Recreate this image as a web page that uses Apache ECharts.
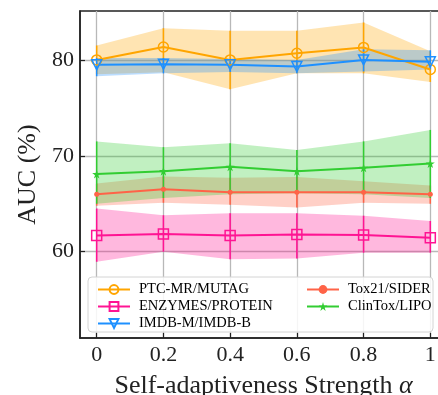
<!DOCTYPE html>
<html><head><meta charset="utf-8">
<script src="https://cdn.jsdelivr.net/npm/echarts@6/dist/echarts.min.js"></script>
<style>html,body{margin:0;padding:0;background:#fff}#c{width:438px;height:395px}</style>
</head><body><div id="c"></div>
<script>
// ---- data ----
const alphas = [0, 0.2, 0.4, 0.6, 0.8, 1];
const xTicks = [0, 0.2, 0.4, 0.6, 0.8, 1];
const yTicks = [60, 70, 80];

const ptcName = 'PTC-MR/MUTAG';
const ptcMean = [80.0, 81.35, 80.0, 80.7, 81.3, 79.0];
const ptcLo   = [78.5, 78.7, 76.95, 78.6, 78.6, 77.7];
const ptcHi   = [81.5, 83.3, 83.05, 83.05, 83.9, 80.9];

const enzName = 'ENZYMES/PROTEIN';
const enzMean = [61.7, 61.85, 61.7, 61.8, 61.75, 61.45];
const enzLo   = [58.95, 60.0, 59.2, 59.3, 59.9, 59.9];
const enzHi   = [64.5, 63.8, 64.0, 64.0, 63.75, 63.2];

const imdbName = 'IMDB-M/IMDB-B';
const imdbMean = [79.5, 79.55, 79.5, 79.3, 80.0, 79.8];
const imdbLo   = [78.3, 78.6, 78.75, 78.6, 78.8, 79.0];
const imdbHi   = [80.2, 80.2, 80.1, 80.0, 81.1, 81.0];

const toxName = 'Tox21/SIDER';
const toxMean = [66.0, 66.5, 66.2, 66.2, 66.2, 66.0];
const toxLo   = [64.8, 65.1, 64.9, 64.6, 65.1, 65.0];
const toxHi   = [67.1, 67.85, 67.7, 67.8, 67.35, 66.9];

const clinName = 'ClinTox/LIPO';
const clinMean = [68.1, 68.4, 68.85, 68.4, 68.75, 69.2];
const clinLo   = [65.0, 65.6, 66.0, 66.1, 66.0, 65.6];
const clinHi   = [71.5, 70.9, 71.3, 70.6, 71.5, 72.7];

// ---- styling ----
const FONT = '"Liberation Serif", "DejaVu Serif", serif';
const STAR = 'path://M50,0 L61,35 L98,35 L68,57 L79,91 L50,70 L21,91 L32,57 L2,35 L39,35 Z';

function hexA(hex, a) {
  const n = parseInt(hex.slice(1), 16);
  return 'rgba(' + (n >> 16) + ',' + ((n >> 8) & 255) + ',' + (n & 255) + ',' + a + ')';
}

function makeSeries(name, color, mean, lo, hi, symbol, size, hollow, rotate) {
  const band = {
    type: 'custom', silent: true, z: 1,
    data: alphas.map((a, i) => [a, lo[i], hi[i]]),
    encode: { x: 0, y: [1, 2] },
    renderItem: function (params, api) {
      if (params.dataIndex !== 0) return null;
      const pts = [];
      for (let i = 0; i < alphas.length; i++) pts.push(api.coord([alphas[i], hi[i]]));
      for (let i = alphas.length - 1; i >= 0; i--) pts.push(api.coord([alphas[i], lo[i]]));
      return { type: 'polygon', shape: { points: pts }, style: { fill: hexA(color, 0.3), stroke: null } };
    }
  };
  const bars = {
    type: 'custom', silent: true, z: 2,
    data: alphas.map((a, i) => [a, lo[i], hi[i]]),
    encode: { x: 0, y: [1, 2] },
    renderItem: function (params, api) {
      const p1 = api.coord([api.value(0), api.value(1)]);
      const p2 = api.coord([api.value(0), api.value(2)]);
      return { type: 'line', shape: { x1: p1[0], y1: p1[1], x2: p2[0], y2: p2[1] }, style: { stroke: color, lineWidth: 1.5 } };
    }
  };
  const line = {
    name: name, type: 'line', z: 3,
    data: alphas.map((a, i) => [a, mean[i]]),
    symbol: symbol, symbolSize: size, symbolRotate: rotate || 0,
    showAllSymbol: true,
    lineStyle: { color: color, width: 2 },
    itemStyle: hollow ? { color: 'rgba(255,255,255,0)', borderColor: color, borderWidth: 1.5 } : { color: color, borderWidth: 0 },
    emphasis: { disabled: true },
    animation: false
  };
  return [band, bars, line];
}

const series = [].concat(
  makeSeries(ptcName, '#FFA500', ptcMean, ptcLo, ptcHi, 'circle', 10, true),
  makeSeries(enzName, '#FF1493', enzMean, enzLo, enzHi, 'rect', 10, true),
  makeSeries(imdbName, '#1E90FF', imdbMean, imdbLo, imdbHi, 'triangle', 10, true, 180),
  makeSeries(toxName, '#FF6347', toxMean, toxLo, toxHi, 'circle', 5, false),
  makeSeries(clinName, '#32CD32', clinMean, clinLo, clinHi, STAR, 9, false)
);

const legendText = { fontFamily: FONT, fontSize: 14.5, lineHeight: 13, color: '#000', padding: [0, 0, 0, 4] };

const chart = echarts.init(document.getElementById('c'), null, { renderer: 'canvas' });
chart.setOption({
  animation: false,
  backgroundColor: '#fff',
  grid: { left: 80, top: 11, width: 367, height: 327, outerBoundsMode: 'none', containLabel: false, show: true, borderColor: '#222', borderWidth: 1.5, backgroundColor: 'transparent' },
  xAxis: {
    type: 'value', min: -0.05, max: 1.05,
    axisLine: { show: true, onZero: false, lineStyle: { color: '#222', width: 1.5 } },
    axisTick: { show: true, inside: true, length: 5, customValues: xTicks, lineStyle: { color: '#222', width: 1.2 } },
    axisLabel: { customValues: xTicks, fontFamily: FONT, fontSize: 22, color: '#222', margin: 6 },
    splitLine: { show: true, lineStyle: { color: '#b8b8b8', width: 1.3 } },
    name: 'Self-adaptiveness Strength {i|α}',
    nameLocation: 'middle', nameGap: 35,
    nameTextStyle: { fontFamily: FONT, fontSize: 26, color: '#222', rich: { i: { fontFamily: FONT, fontSize: 26, fontStyle: 'italic', color: '#222' } } }
  },
  yAxis: {
    type: 'value', min: 51.0, max: 85.1,
    axisLine: { show: true, onZero: false, lineStyle: { color: '#222', width: 1.5 } },
    axisTick: { show: true, inside: true, length: 5, customValues: yTicks, lineStyle: { color: '#222', width: 1.2 } },
    axisLabel: { customValues: yTicks, fontFamily: FONT, fontSize: 22, color: '#222', margin: 6 },
    splitLine: { show: true, lineStyle: { color: '#b8b8b8', width: 1.3 } },
    name: 'AUC (%)', nameLocation: 'middle', nameGap: 38, nameRotate: 90,
    nameTextStyle: { fontFamily: FONT, fontSize: 26, color: '#222' }
  },
  legend: [
    { data: [ptcName, enzName, imdbName], orient: 'vertical', left: 92, top: 277, itemWidth: 32, itemHeight: 11, itemGap: 2, textStyle: legendText, selectedMode: false, z: 10 },
    { data: [toxName, clinName], orient: 'vertical', left: 301, top: 277, itemWidth: 32, itemHeight: 11, itemGap: 2, textStyle: legendText, selectedMode: false, z: 10 }
  ],
  graphic: [{
    type: 'rect', z: 9, silent: true,
    shape: { x: 88, y: 277, width: 345, height: 55, r: 4 },
    style: { fill: 'rgba(255,255,255,0.85)', stroke: '#d4d4d4', lineWidth: 1 }
  }],
  series: series
});
</script></body></html>
